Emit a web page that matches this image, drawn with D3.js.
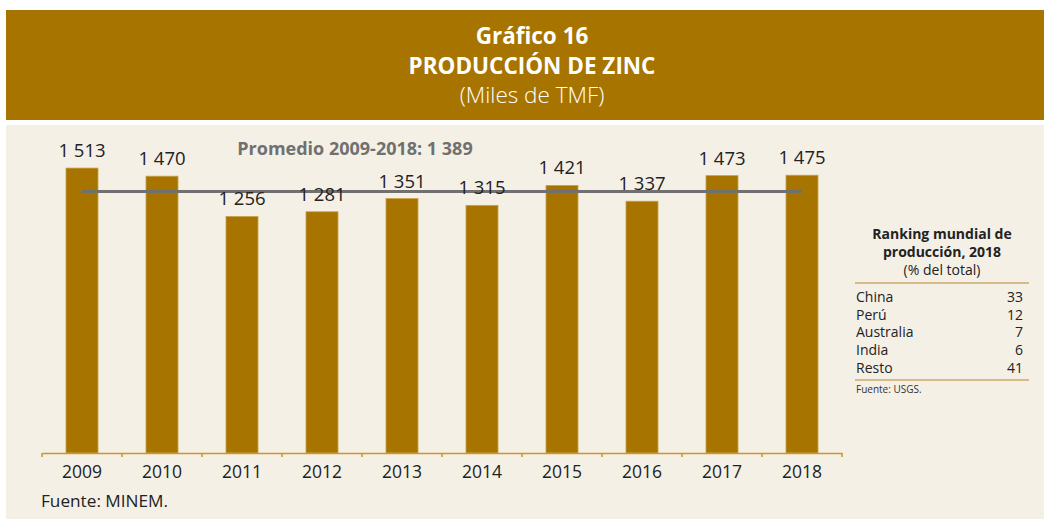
<!DOCTYPE html>
<html>
<head>
<meta charset="utf-8">
<script src="https://cdn.jsdelivr.net/npm/d3@7"></script>
<style>
  body { margin: 0; background: #fff; }
  text { font-family: "Open Sans", "Noto Sans", sans-serif; }
</style>
</head>
<body>
<div id="chart"></div>
<script>
// data
var years = ["2009", "2010", "2011", "2012", "2013", "2014", "2015", "2016", "2017", "2018"];
var produccion = [1513, 1470, 1256, 1281, 1351, 1315, 1421, 1337, 1473, 1475];
var promedio = 1389;
var paises = ["China", "Perú", "Australia", "India", "Resto"];
var porcentajes = [33, 12, 7, 6, 41];

var W = 1044, H = 519;
var gold = "#a87400";

function fmt(v) {
  // thousands separated by a space
  return d3.format(",")(v).replace(/,/g, " ");
}

var svg = d3.select("#chart").append("svg")
    .attr("width", W)
    .attr("height", H);

// header box
svg.append("rect")
    .attr("x", 6).attr("y", 10)
    .attr("width", W - 6).attr("height", 110)
    .attr("fill", gold);

var titles = [
  {t: "Gráfico 16", y: 44, w: "bold"},
  {t: "PRODUCCIÓN DE ZINC", y: 74, w: "bold"},
  {t: "(Miles de TMF)", y: 103, w: "300"}
];
svg.selectAll(".title").data(titles).enter().append("text")
    .attr("class", "title")
    .attr("x", 532).attr("y", function(d) { return d.y; })
    .attr("text-anchor", "middle")
    .attr("fill", "#fff")
    .attr("font-size", 22.5)
    .attr("font-weight", function(d) { return d.w; })
    .text(function(d) { return d.t; });

// panel
svg.append("rect")
    .attr("x", 6).attr("y", 125)
    .attr("width", W - 6).attr("height", H - 125)
    .attr("fill", "#f4f0e6");

// scales
var x = d3.scaleBand()
    .domain(years)
    .range([42, 842])
    .paddingInner(0.6)
    .paddingOuter(0.3);
var y = d3.scaleLinear()
    .domain([0, 1600])
    .range([453, 151.7]);

// bars
svg.selectAll(".bar").data(produccion).enter().append("rect")
    .attr("class", "bar")
    .attr("x", function(d, i) { return x(years[i]); })
    .attr("y", function(d) { return y(d); })
    .attr("width", x.bandwidth())
    .attr("height", function(d) { return y(0) - y(d); })
    .attr("fill", gold)
    .attr("stroke", "#c9a04a")
    .attr("stroke-width", 0.8);

// average line
var cx = function(yr) { return x(yr) + x.bandwidth() / 2; };
svg.append("line")
    .attr("x1", cx(years[0])).attr("x2", cx(years[years.length - 1]))
    .attr("y1", y(promedio)).attr("y2", y(promedio))
    .attr("stroke", "#707070")
    .attr("stroke-width", 3);

svg.append("text")
    .attr("x", 355).attr("y", 155)
    .attr("text-anchor", "middle")
    .attr("font-size", 18)
    .attr("font-weight", "bold")
    .attr("fill", "#707070")
    .text("Promedio 2009-2018: " + fmt(promedio));

// value labels
svg.selectAll(".lbl").data(produccion).enter().append("text")
    .attr("class", "lbl")
    .attr("x", function(d, i) { return cx(years[i]); })
    .attr("y", function(d) { return y(d) - 11; })
    .attr("text-anchor", "middle")
    .attr("font-size", 18.5)
    .attr("fill", "#222")
    .text(function(d) { return fmt(d); });

// x axis
var xAxis = svg.append("g")
    .attr("transform", "translate(0,453)")
    .call(d3.axisBottom(x).tickSize(0).tickPadding(13));
xAxis.select(".domain").attr("stroke", "#c9962a").attr("stroke-width", 1.5);
xAxis.selectAll("text")
    .attr("font-size", 17.5)
    .attr("fill", "#222")
    .style("font-family", "'Open Sans', sans-serif");
// boundary ticks between categories
var edges = years.map(function(d) { return x(d) - x.step() * 0.3; }).concat([842]);
xAxis.selectAll(".edge").data(edges).enter().append("line")
    .attr("class", "edge")
    .attr("x1", function(d) { return d; }).attr("x2", function(d) { return d; })
    .attr("y1", 0).attr("y2", 4)
    .attr("stroke", "#c9962a").attr("stroke-width", 1.5);

svg.append("text")
    .attr("x", 41).attr("y", 507)
    .attr("font-size", 17.2)
    .attr("fill", "#222")
    .text("Fuente: MINEM.");

// ranking table
var tbl = svg.append("g");
[["Ranking mundial de", 239, "bold"], ["producción, 2018", 257, "bold"], ["(% del total)", 275, "normal"]]
  .forEach(function(r) {
    tbl.append("text")
        .attr("x", 942).attr("y", r[1])
        .attr("text-anchor", "middle")
        .attr("font-size", 14)
        .attr("font-weight", r[2])
        .attr("fill", "#222")
        .text(r[0]);
  });
[283, 380].forEach(function(yy) {
  tbl.append("line")
      .attr("x1", 855).attr("x2", 1029)
      .attr("y1", yy).attr("y2", yy)
      .attr("stroke", "#b8862a").attr("stroke-width", 1.2);
});
var rowY = d3.scalePoint().domain(paises).range([302, 372.5]);
tbl.selectAll(".pais").data(paises).enter().append("text")
    .attr("x", 856).attr("y", function(d) { return rowY(d); })
    .attr("font-size", 14).attr("fill", "#222")
    .text(function(d) { return d; });
tbl.selectAll(".pct").data(porcentajes).enter().append("text")
    .attr("x", 1023).attr("y", function(d, i) { return rowY(paises[i]); })
    .attr("text-anchor", "end")
    .attr("font-size", 14).attr("fill", "#222")
    .text(function(d) { return d; });
tbl.append("text")
    .attr("x", 856).attr("y", 393)
    .attr("font-size", 10).attr("fill", "#333")
    .text("Fuente: USGS.");
</script>
</body>
</html>
